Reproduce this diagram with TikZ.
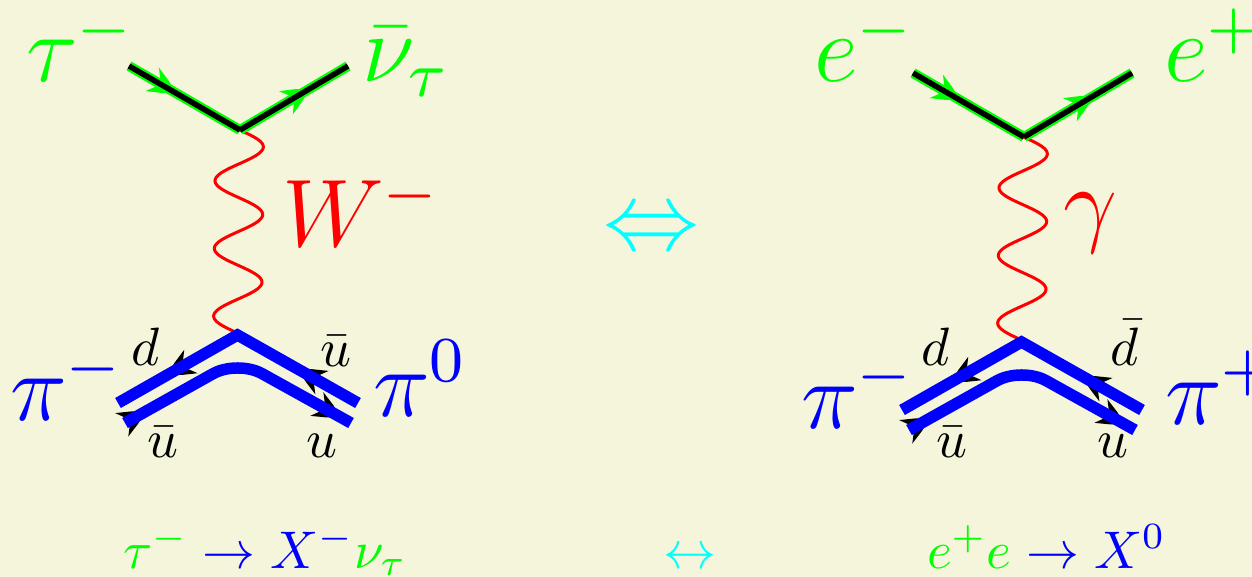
\documentclass[tikz,border=0pt]{standalone}
\usepackage{graphicx}
\usetikzlibrary{decorations.markings}
\definecolor{bgc}{HTML}{F5F5DC}
\definecolor{gr}{HTML}{00FF00}
\definecolor{bl}{HTML}{0000FF}
\definecolor{rd}{HTML}{FF0000}
\definecolor{cy}{HTML}{00FFFF}
\tikzset{
  lbl/.style={inner sep=0pt,outer sep=0pt,anchor=base west},
  wave/.style={draw=rd,line width=3pt,smooth},
  fermg/.style={draw=gr,line width=10pt},
  fermk/.style={draw=black,line width=5.5pt},
  meson/.style={draw=bl,line width=11.5pt,line join=miter},
  mesonr/.style={draw=bl,line width=11.5pt,rounded corners=28pt},
  tipmark/.style n args={2}{decoration={markings,mark=at position #1 with {\fill[#2] (0,0) -- (-12,7) -- (-27,13.5) -- (-17,0) -- (-27,-13.5) -- (-12,-7) -- cycle;}},postaction={decorate}}
}
\newcommand{\BigLab}[3]{\node[lbl,text=#3] at #1 {\scalebox{8}{\large$#2$}};}
\newcommand{\SmLab}[2]{\node[lbl] at #1 {\scalebox{5.4}{$#2$}};}
\newcommand{\Vtx}[2]{%
  \begin{scope}[shift={(#1)}]
    \coordinate (#2fl) at (129,66);
    \coordinate (#2fv) at (240,130);
    \coordinate (#2fr) at (348,66);
    \coordinate (#2mv) at (237.5,335);
    \coordinate (#2ul) at (118,403);
    \coordinate (#2ur) at (358,403);
    \coordinate (#2ll) at (125,423);
    \coordinate (#2la) at (237.5,360);
    \coordinate (#2lr) at (351,423);
    \draw[wave] plot[domain=0:1,samples=145] ({239.5-2*\x+24*sin(1080*\x)},{130+203*\x});
    \path[tipmark={0.42}{gr}] (#2fl) -- (#2fv);
    \path[tipmark={0.64}{gr}] (#2fv) -- (#2fr);
    \draw[fermg] (#2fv) -- (#2fr);
    \draw[fermg] (#2fl) -- (#2fv);
    \draw[fermk] (#2fv) -- (#2fr);
    \draw[fermk] (#2fl) -- (#2fv);
    \path[tipmark={0.586}{black}] (#2mv) -- (#2ul);
    \path[tipmark={0.494}{black}] (#2ur) -- (#2mv);
    \path[tipmark={0.907}{black}] (#2la) -- (#2lr);
    \path[tipmark={0.18}{black}] (#2ll) -- (#2la);
    \draw[meson] (#2ul) -- (#2mv) -- (#2ur);
    \draw[mesonr] (#2ll) -- (#2la) -- (#2lr);
  \end{scope}}
\begin{document}
\begin{tikzpicture}[x=1pt,y=-1pt]
\useasboundingbox[fill=bgc] (0,0) rectangle (1252,577);
\Vtx{0,0}{a}
\Vtx{784,7}{b}
\BigLab{(26,82)}{\tau^-}{gr}
\BigLab{(362,82)}{\bar\nu_\tau}{gr}
\BigLab{(282,247)}{W^-}{rd}
\BigLab{(10,420)}{\pi^-}{bl}
\BigLab{(373,416)}{\pi^0}{bl}
\BigLab{(814,82)}{e^-}{gr}
\BigLab{(1164,82)}{e^+}{gr}
\BigLab{(1063,235)}{\gamma}{rd}
\BigLab{(801,428)}{\pi^-}{bl}
\BigLab{(1165,424)}{\pi^+}{bl}
\BigLab{(603,250)}{\Leftrightarrow}{cy}
\SmLab{(131,365)}{d}
\SmLab{(320,366)}{\bar u}
\SmLab{(147,457)}{\bar u}
\SmLab{(306,457)}{u}
\SmLab{(921,365)}{d}
\SmLab{(1110,365)}{\bar d}
\SmLab{(936,457)}{\bar u}
\SmLab{(1097,457)}{u}
\node[lbl] at (123,568) {\scalebox{5.3}{$\textcolor{gr}{\tau^-}\mathrel{\textcolor{bl}{\rightarrow}}\textcolor{bl}{X^-}\textcolor{gr}{\nu_\tau}$}};
\node[lbl] at (663,568) {\scalebox{5.3}{$\textcolor{cy}{\leftrightarrow}$}};
\node[lbl] at (927,568) {\scalebox{5.3}{$\textcolor{gr}{e^+e}\mathrel{\textcolor{bl}{\rightarrow}}\textcolor{bl}{X^0}$}};
\end{tikzpicture}
\end{document}
